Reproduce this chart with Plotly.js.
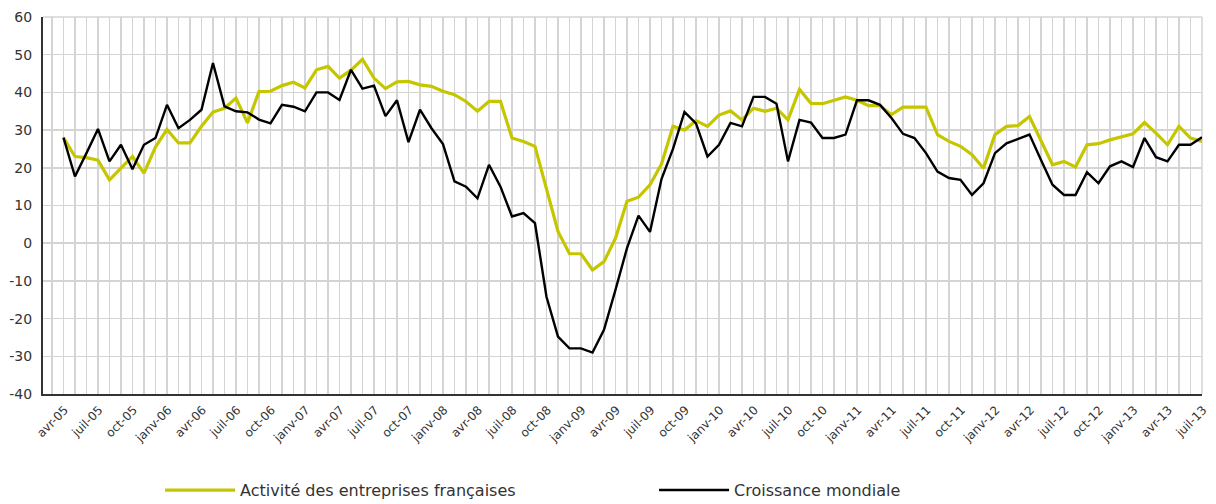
<!DOCTYPE html>
<html>
<head>
<meta charset="utf-8">
<script src="https://cdn.plot.ly/plotly-3.0.1.min.js"></script>
<style>
  html, body { margin: 0; padding: 0; background: #ffffff; }
  #wrap { position: relative; width: 1216px; height: 504px; }
  #chart { width: 1216px; height: 504px; }
  #xlabels { position: absolute; left: 0; top: 0; width: 1216px; height: 504px; pointer-events: none; }
</style>
</head>
<body>
<div id="wrap">
  <div id="chart"></div>
  <svg id="xlabels" width="1216" height="504" xmlns="http://www.w3.org/2000/svg"><defs id="xlabel-defs"></defs></svg>
</div>
<script>
// Monthly series, avr-05 .. juil-13 (100 months)
const activiteFrance = [
  28, 23, 22.7, 22, 16.8, 19.9, 23, 18.6, 25.5, 30.2,
  26.6, 26.6, 31, 34.8, 35.8, 38.5, 31.9, 40.2, 40.3, 41.8,
  42.7, 41.2, 46, 46.9, 43.8, 45.9, 48.8, 43.8, 41, 42.8,
  42.9, 42, 41.6, 40.3, 39.4, 37.6, 35, 37.6, 37.6, 27.9,
  27, 25.7, 14.2, 3.1, -2.8, -2.8, -7.1, -4.9, 1.3, 11.1,
  12.2, 15.5, 21, 31, 30, 32.5, 31, 34, 35.1, 32.7,
  35.8, 35, 35.8, 32.7, 40.8, 37.1, 37, 37.8, 38.8, 37.9,
  36.5, 36.5, 34.1, 36.1, 36.1, 36.1, 28.8, 27, 25.7, 23.5,
  19.9, 28.8, 31, 31.2, 33.6, 27.4, 20.8, 21.7, 20.2, 26.1,
  26.4, 27.4, 28.1, 29, 32, 29.2, 26.1, 31, 27.9, 27
];
const croissanceMondiale = [
  28, 17.7, 23.9, 30.3, 21.7, 26.1, 19.6, 26.1, 27.9, 36.7,
  30.5, 32.7, 35.4, 47.8, 36.3, 35, 34.7, 32.8, 31.8, 36.7,
  36.2, 35, 40, 40, 38, 46, 41, 41.8, 33.7, 37.9,
  26.8, 35.4, 30.5, 26.3, 16.4, 15, 11.9, 20.8, 15, 7.1,
  8, 5.3, -14.2, -24.8, -27.9, -27.9, -29, -23, -12.4, -1.3,
  7.3, 3, 17, 25, 34.8, 31.8, 23, 26.1, 31.9, 31,
  38.8, 38.8, 37, 21.7, 32.7, 32, 27.9, 27.9, 28.8, 37.9,
  37.9, 36.7, 33.2, 29, 27.9, 23.9, 19, 17.3, 16.8, 12.8,
  15.9, 23.9, 26.5, 27.6, 28.8, 22.1, 15.5, 12.8, 12.8, 18.8,
  15.9, 20.4, 21.7, 20.2, 27.9, 22.8, 21.7, 26.1, 26.1, 28.1
];
// Quarterly tick labels (one every 3 months, starting at the first month)
const tickLabels = [
  "avr-05","juil-05","oct-05","janv-06","avr-06","juil-06","oct-06","janv-07",
  "avr-07","juil-07","oct-07","janv-08","avr-08","juil-08","oct-08","janv-09",
  "avr-09","juil-09","oct-09","janv-10","avr-10","juil-10","oct-10","janv-11",
  "avr-11","juil-11","oct-11","janv-12","avr-12","juil-12","oct-12","janv-13",
  "avr-13","juil-13"
];
const yTickVals = [-40, -30, -20, -10, 0, 10, 20, 30, 40, 50, 60];
const yTickText = ["-40", "-30", "-20", "-10", "0", "10", "20", "30", "40", "50", "60"];
const seriesNames = ["Activité des entreprises françaises", "Croissance mondiale"];
const seriesColors = ["#c6c600", "#000000"];

const xIdx = activiteFrance.map((_, i) => i);
const tickvals = xIdx.filter(i => i % 3 === 0);
const ticktext = tickvals.map(i => tickLabels[i / 3]);

const FONT = "DejaVu Sans, Verdana, sans-serif";
const GRID = "#d4d4d4";
const TICK_FS = 12;

const traces = [
  // invisible helper trace so that the monthly grid axis is drawn
  {
    x: xIdx, y: croissanceMondiale, xaxis: "x2", yaxis: "y",
    type: "scatter", mode: "lines", line: { width: 0, color: "rgba(0,0,0,0)" },
    showlegend: false, hoverinfo: "skip"
  },
  {
    x: xIdx, y: activiteFrance, type: "scatter", mode: "lines",
    name: seriesNames[0],
    line: { color: seriesColors[0], width: 3.2 },
    hoverinfo: "y"
  },
  {
    x: xIdx, y: croissanceMondiale, type: "scatter", mode: "lines",
    name: seriesNames[1],
    line: { color: seriesColors[1], width: 2.4 },
    hoverinfo: "y"
  }
];

const layout = {
  width: 1216, height: 504,
  margin: { l: 43, r: 14, t: 17, b: 110, pad: 0, autoexpand: false },
  paper_bgcolor: "#ffffff", plot_bgcolor: "#ffffff",
  font: { family: FONT, color: "#333333" },
  showlegend: true,
  legend: {
    orientation: "h",
    x: 0.101, xanchor: "left",
    y: -0.255, yanchor: "middle",
    font: { family: FONT, size: 16, color: "#333333" },
    entrywidth: 409,
    itemwidth: 70,
    bgcolor: "rgba(0,0,0,0)"
  },
  xaxis: {
    range: [-1.78, 99.0],
    tickmode: "array", tickvals: tickvals, ticktext: ticktext,
    showticklabels: false,
    ticks: "",
    automargin: false,
    showgrid: false,
    showline: true, linecolor: "#333333", linewidth: 2,
    zeroline: false, fixedrange: true, layer: "above traces"
  },
  xaxis2: {
    overlaying: "x", matches: "x",
    range: [-1.78, 99.0],
    tickmode: "linear", tick0: 0, dtick: 1,
    showticklabels: false, ticks: "",
    automargin: false,
    showgrid: true, gridcolor: GRID, gridwidth: 1.5,
    showline: false, zeroline: false, fixedrange: true
  },
  yaxis: {
    range: [-40, 60],
    tickmode: "array", tickvals: yTickVals, ticktext: yTickText,
    tickfont: { family: FONT, size: 14, color: "#333333" },
    ticks: "", ticklabelstandoff: 6,
    automargin: false,
    showgrid: true, gridcolor: GRID, gridwidth: 1.5,
    showline: true, linecolor: "#333333", linewidth: 2,
    zeroline: false, fixedrange: true
  },
  shapes: [
    { type: "line", xref: "paper", yref: "paper", x0: 1, x1: 1, y0: 0, y1: 1,
      line: { color: GRID, width: 1.5 }, layer: "below" },
    { type: "line", xref: "paper", yref: "paper", x0: 0, x1: 1, y0: 1, y1: 1,
      line: { color: GRID, width: 1.5 }, layer: "below" }
  ]
};

// Quarterly x labels: text laid on -45° paths ending at each tick (positions from Plotly's x axis)
function drawXLabels(gd) {
  const fl = gd._fullLayout;
  if (!fl || !fl.xaxis || !fl.yaxis || !isFinite(fl.xaxis._offset)) return false;
  const xa = fl.xaxis, ya = fl.yaxis;
  const NS = "http://www.w3.org/2000/svg";
  const XL = "http://www.w3.org/1999/xlink";
  const svg = document.getElementById("xlabels");
  const defs = document.getElementById("xlabel-defs");
  svg.querySelectorAll("text.xlab").forEach(t => t.remove());
  while (defs.firstChild) defs.removeChild(defs.firstChild);
  const c = Math.SQRT1_2;
  const baseY = ya._offset + ya._length + 12.7 + (TICK_FS / 2) * c;
  const pad = 30;
  tickvals.forEach((v, k) => {
    const label = ticktext[k];
    const X = xa.l2p(v) + xa._offset;
    const Ex = X + 5.5, Ey = baseY;
    const est = label.length * TICK_FS * 0.62;
    const L0 = est + 40 + pad;
    const id = "xlp-" + k;
    const p = document.createElementNS(NS, "path");
    p.setAttribute("id", id);
    p.setAttribute("d",
      "M" + (Ex - L0 * c).toFixed(2) + "," + (Ey + L0 * c).toFixed(2) +
      " L" + (Ex + pad * c).toFixed(2) + "," + (Ey - pad * c).toFixed(2));
    defs.appendChild(p);
    const t = document.createElementNS(NS, "text");
    t.setAttribute("class", "xlab");
    t.setAttribute("font-family", "DejaVu Sans, Verdana, sans-serif");
    t.setAttribute("font-size", String(TICK_FS));
    t.setAttribute("fill", "#333333");
    const tp = document.createElementNS(NS, "textPath");
    tp.setAttribute("href", "#" + id);
    tp.setAttributeNS(XL, "xlink:href", "#" + id);
    tp.setAttribute("startOffset", "100%");
    tp.setAttribute("text-anchor", "end");
    tp.textContent = label;
    t.appendChild(tp);
    svg.appendChild(t);
    // measure and set an explicit start offset so the label ends exactly at the tick
    let len = 0;
    try { len = t.getComputedTextLength(); } catch (e) { len = 0; }
    if (len > 0) {
      tp.removeAttribute("text-anchor");
      tp.setAttribute("startOffset", (L0 - len).toFixed(2));
    }
  });
  return true;
}

const gdiv = document.getElementById("chart");
const pr = Plotly.newPlot(gdiv, traces, layout, { displayModeBar: false, staticPlot: true });
try { drawXLabels(gdiv); } catch (e) {}
pr.then(gd => { drawXLabels(gd); });
</script>
</body>
</html>
